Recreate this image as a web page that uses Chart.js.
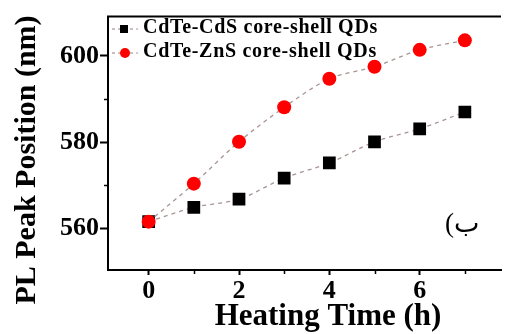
<!DOCTYPE html>
<html>
<head>
<meta charset="utf-8">
<script src="https://cdn.jsdelivr.net/npm/chart.js@4/dist/chart.umd.min.js"></script>
<style>
  body { margin: 0; background: #fff; overflow: hidden; }
  canvas { display: block; }
</style>
</head>
<body>
<canvas id="peakChart" width="510" height="334"></canvas>
<script>
// heating time (h) vs PL peak position (nm)
let hours = [0, 1, 2, 3, 4, 5, 6, 7];
let cdsPeak = [561.6, 564.9, 566.8, 571.7, 575.2, 580.1, 583.1, 587.0];
let znsPeak = [561.6, 570.4, 580.1, 588.1, 594.7, 597.5, 601.4, 603.6];
let seriesNames = ['CdTe-CdS core-shell QDs', 'CdTe-ZnS core-shell QDs'];
let xTicks = [0, 2, 4, 6];
let yTicks = [560, 580, 600];
let xMinor = [1, 3, 5, 7];
let yMinor = [570, 590];
let xTitle = 'Heating Time (h)';
let yTitle = 'PL Peak Position (nm)';
let panelLabel = '(ب';

const serif = "'Liberation Serif', 'Times New Roman', serif";
const lineCol = '#a89494';

function toPoints(xs, ys) {
    return xs.map((x, i) => ({ x: x, y: ys[i] }));
}

// legend, frame top, minor ticks, axis titles and panel label
const extras = {
    id: 'extras',
    afterDraw(chart) {
        const ctx = chart.ctx;
        const area = chart.chartArea;
        const xs = chart.scales.x, ys = chart.scales.y;
        ctx.save();
        ctx.strokeStyle = '#000';
        ctx.lineWidth = 2;
        ctx.beginPath();
        ctx.moveTo(area.left - 1, area.top);
        ctx.lineTo(area.right, area.top);
        ctx.stroke();

        ctx.lineWidth = 1.5;
        yMinor.forEach(v => {
            const py = Math.round(ys.getPixelForValue(v)) + 0.5;
            ctx.beginPath();
            ctx.moveTo(area.left, py);
            ctx.lineTo(area.left - 4, py);
            ctx.stroke();
        });
        xMinor.forEach(v => {
            const px = Math.round(xs.getPixelForValue(v)) + 0.5;
            ctx.beginPath();
            ctx.moveTo(px, area.bottom);
            ctx.lineTo(px, area.bottom + 4);
            ctx.stroke();
        });

        // legend inside the plot
        const rows = [29, 53];
        chart.data.datasets.forEach((ds, i) => {
            const cy = rows[i];
            ctx.strokeStyle = lineCol;
            ctx.lineWidth = 1.2;
            ctx.setLineDash([3, 3]);
            ctx.beginPath();
            ctx.moveTo(112, cy);
            ctx.lineTo(138, cy);
            ctx.stroke();
            ctx.setLineDash([]);
            ctx.fillStyle = ds.backgroundColor;
            ctx.beginPath();
            if (ds.pointStyle === 'rect') {
                ctx.rect(120, cy - 4, 8, 8);
            } else {
                ctx.arc(125, cy, 5, 0, Math.PI * 2);
            }
            ctx.fill();
            ctx.fillStyle = '#000';
            ctx.font = 'bold 20px ' + serif;
            ctx.letterSpacing = '0.7px';
            ctx.textBaseline = 'alphabetic';
            ctx.textAlign = 'left';
            ctx.fillText(ds.label, 143, cy + 4);
        });
        ctx.letterSpacing = '0px';

        // axis titles
        ctx.fillStyle = '#000';
        ctx.font = 'bold 31px ' + serif;
        ctx.textAlign = 'center';
        ctx.textBaseline = 'middle';
        ctx.fillText(xTitle, 328, 317);
        ctx.save();
        ctx.translate(27, 160);
        ctx.rotate(-Math.PI / 2);
        ctx.font = 'bold 30px ' + serif;
        ctx.fillText(yTitle, 0, 0);
        ctx.restore();

        ctx.font = "27px 'Liberation Serif', 'DejaVu Sans'";
        ctx.direction = 'ltr';
        ctx.textAlign = 'left';
        ctx.textBaseline = 'middle';
        ctx.fillText(panelLabel, 445, 225);
        ctx.restore();
    }
};

const data = {
    datasets: [{
        label: seriesNames[0],
        data: toPoints(hours, cdsPeak),
        borderColor: lineCol,
        borderWidth: 1.3,
        borderDash: [4, 4],
        backgroundColor: '#000',
        pointBackgroundColor: '#000',
        pointBorderWidth: 0,
        pointStyle: 'rect',
        pointRadius: 9,
        tension: 0.3,
        order: 2
    }, {
        label: seriesNames[1],
        data: toPoints(hours, znsPeak),
        borderColor: lineCol,
        borderWidth: 1.3,
        borderDash: [4, 4],
        backgroundColor: '#ff0000',
        pointBackgroundColor: '#ff0000',
        pointBorderWidth: 0,
        pointStyle: 'circle',
        pointRadius: 7,
        tension: 0.3,
        order: 1
    }]
};

const config = {
    type: 'line',
    data: data,
    options: {
        responsive: false,
        animation: false,
        layout: { padding: { top: 13, left: 0, right: 0, bottom: 0 } },
        plugins: {
            legend: { display: false },
            tooltip: { enabled: false }
        },
        scales: {
            x: {
                type: 'linear',
                min: -0.9,
                max: 7.8,
                afterBuildTicks: s => { s.ticks = xTicks.map(v => ({ value: v })); },
                afterFit: s => { s.height = 64; },
                border: { color: '#000', width: 2 },
                grid: { drawOnChartArea: false, tickLength: 5, tickWidth: 2, color: '#000' },
                ticks: {
                    color: '#000',
                    padding: 1,
                    maxRotation: 0,
                    font: { family: serif, size: 26, weight: 'bold' }
                }
            },
            y: {
                min: 550.4,
                max: 609.1,
                afterBuildTicks: s => { s.ticks = yTicks.map(v => ({ value: v })); },
                afterFit: s => { s.width = 108; },
                border: { color: '#000', width: 2 },
                grid: { drawOnChartArea: false, tickLength: 8, tickWidth: 2, color: '#000' },
                ticks: {
                    color: '#000',
                    padding: 1,
                    font: { family: serif, size: 26, weight: 'bold' }
                }
            }
        }
    },
    plugins: [extras]
};

const peakChart = new Chart(
    document.getElementById('peakChart').getContext('2d'),
    config
);
</script>
</body>
</html>
